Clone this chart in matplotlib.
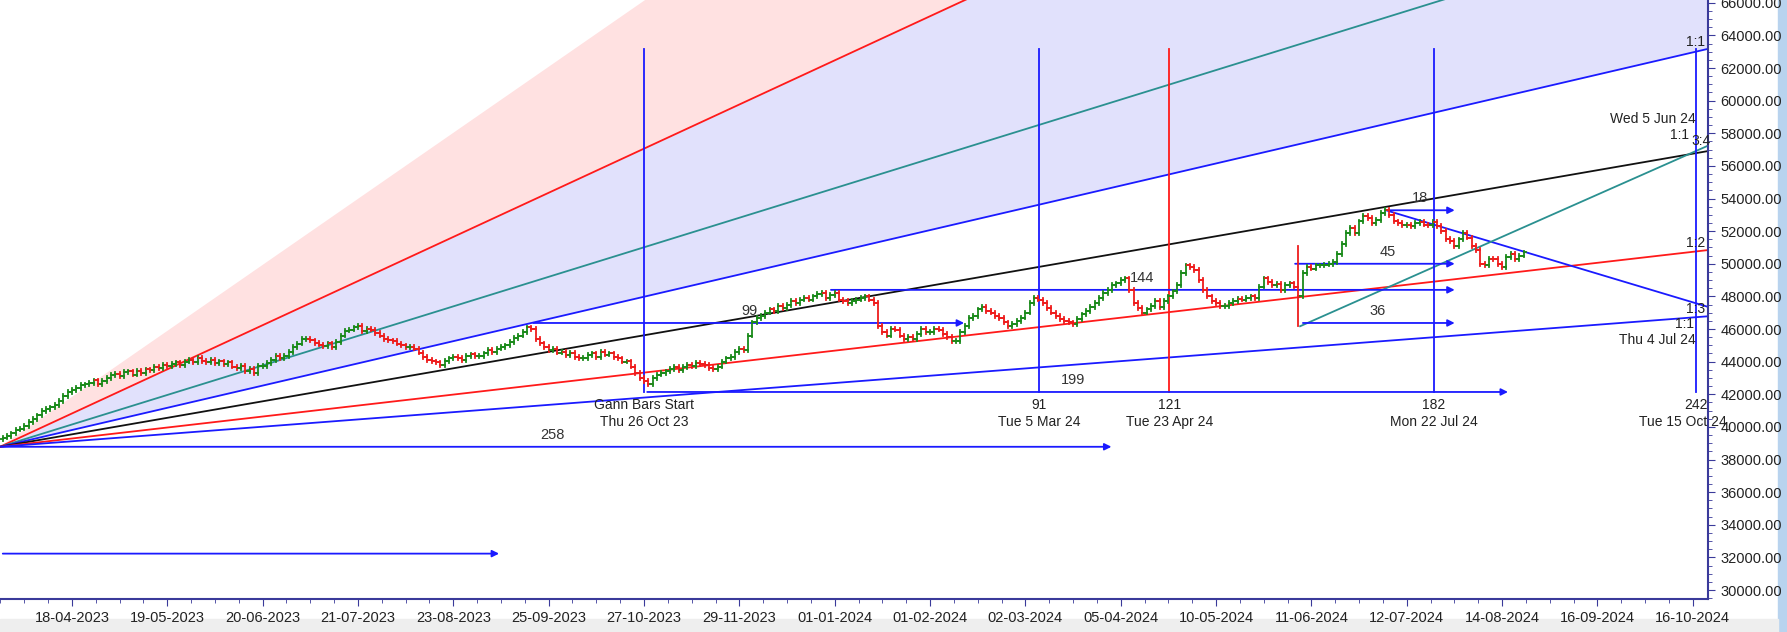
import matplotlib
matplotlib.use("Agg")
import matplotlib.pyplot as plt
import numpy as np
from matplotlib.ticker import MultipleLocator

plt.rcParams['font.family'] = ['Liberation Sans', 'DejaVu Sans']

# ---------------- data ----------------
start_index = -16
closes = [v * 10 for v in [
3934,3945,3960,3983,3990,4005,4030,4050,4070,4098,
4108,4120,4135,4160,4190,4213,4225,4240,4255,4261,
4270,4285,4262,4280,4300,4317,4325,4310,4335,4340,
4320,4345,4330,4352,4350,4370,4358,4380,4375,4387,
4395,4380,4400,4410,4395,4422,4405,4398,4410,4390,
4401,4385,4395,4370,4360,4375,4340,4355,4330,4373,
4373,4390,4410,4436,4420,4436,4460,4490,4510,4540,
4540,4530,4515,4505,4495,4512,4490,4520,4560,4590,
4596,4610,4620,4585,4600,4596,4575,4560,4540,4530,
4526,4510,4500,4490,4491,4480,4455,4430,4410,4401,
4395,4380,4405,4420,4430,4422,4410,4435,4445,4436,
4436,4450,4470,4460,4480,4491,4500,4520,4545,4560,
4580,4610,4600,4540,4512,4490,4470,4480,4456,4460,
4440,4455,4430,4422,4422,4440,4450,4430,4460,4443,
4450,4430,4420,4400,4401,4370,4330,4300,4282,4260,
4300,4320,4331,4340,4355,4366,4350,4366,4380,4375,
4390,4387,4380,4360,4352,4370,4400,4420,4430,4460,
4480,4470,4560,4640,4666,4680,4700,4720,4710,4740,
4730,4749,4770,4760,4780,4791,4780,4800,4815,4819,
4790,4810,4819,4780,4770,4760,4770,4780,4791,4800,
4780,4760,4620,4580,4560,4600,4596,4560,4540,4550,
4540,4570,4600,4582,4582,4600,4596,4570,4550,4526,
4526,4580,4620,4666,4680,4720,4735,4710,4700,4680,
4666,4640,4620,4631,4650,4670,4700,4760,4791,4780,
4760,4730,4700,4680,4660,4650,4640,4631,4660,4690,
4710,4735,4760,4790,4820,4840,4870,4880,4900,4910,
4840,4760,4730,4700,4720,4740,4770,4735,4770,4800,
4830,4870,4944,4990,4980,4960,4900,4840,4800,4770,
4760,4740,4740,4760,4770,4784,4780,4790,4800,4791,
4860,4910,4890,4870,4875,4840,4870,4880,4860,4800,
4944,4980,4970,4990,4990,4995,5000,5010,5060,5120,
5188,5220,5190,5260,5293,5280,5250,5270,5310,5328,
5300,5260,5250,5237,5240,5230,5250,5258,5240,5237,
5258,5230,5200,5153,5139,5110,5150,5188,5160,5110,
5084,5000,4993,5030,5028,5000,4979,5040,5060,5030,5050,5070]]

tick_labels = ["18-04-2023","19-05-2023","20-06-2023","21-07-2023","23-08-2023",
               "25-09-2023","27-10-2023","29-11-2023","01-01-2024","01-02-2024",
               "02-03-2024","05-04-2024","10-05-2024","11-06-2024","12-07-2024",
               "14-08-2024","16-09-2024","16-10-2024"]
tick_step = 22

fan_origin = (-16.6, 38780)
fan_slopes = {"pink": 184, "red": 123, "teal": 82.3, "blue": 61.9, "black": 46.0,
              "red2": 30.6, "blue2": 20.3}

vlines = [(132.1, "blue", "Gann Bars Start", "Thu 26 Oct 23"),
          (223.2, "blue", "91", "Tue 5 Mar 24"),
          (253.2, "red", "121", "Tue 23 Apr 24"),
          (314.2, "blue", "182", "Mon 22 Jul 24"),
          (374.7, "blue", "242", "Tue 15 Oct 24")]
harrows = [(132.1, 332, 42140, "199", 231),
           (-16.6, 240.5, 38780, "258", 110.8),
           (-16.6, 99.2, 32230, "", 0),
           (105.8, 206.5, 46370, "99", 156.3),
           (174.5, 319.7, 48400, "144", 247),
           (281.6, 319.7, 50000, "45", 303.7),
           (283.4, 319.7, 46370, "36", 301.3),
           (303.2, 319.7, 53280, "18", 311)]

# ---------------- figure ----------------
fig = plt.figure(figsize=(17.87, 6.32), dpi=100)
ax = fig.add_axes([0.0, 0.052, 0.956, 0.948])
xmin, xmax = -16.6, 377.6
ymin, ymax = 29440, 66170
ax.set_xlim(xmin, xmax); ax.set_ylim(ymin, ymax)

xs = np.array([xmin, xmax + 50])
ox, oy = fan_origin
line = lambda s: oy + s * (xs - ox)
ax.fill_between(xs, line(fan_slopes["red"]), line(fan_slopes["pink"]), color="#ffe1e1", lw=0, zorder=0)
ax.fill_between(xs, line(fan_slopes["blue"]), line(fan_slopes["red"]), color="#e1e1fc", lw=0, zorder=0)
cols = {"red": "#ff1a1a", "teal": "#2a9090", "blue": "#1a1aff", "black": "#111111",
        "red2": "#ff1a1a", "blue2": "#1a1aff"}
for k, c in cols.items():
    ax.plot(xs, line(fan_slopes[k]), color=c, lw=1.3, zorder=1)

ax.plot([303.2, 377.6], [53280, 47350], color="#1a1aff", lw=1.3, zorder=1)
ax.plot([283.4, 377.6], [46170, 57250], color="#2a9090", lw=1.3, zorder=1)

for x, c, l1, l2 in vlines:
    ax.plot([x, x], [42140, 63170], color="#1a1aff" if c == "blue" else "#ff1a1a", lw=1.3, zorder=1)
    ax.text(x, 41800, l1, ha="center", va="top", fontsize=10, color="#222222")
    ax.text(x - (3 if l1 == "242" else 0), 40750, l2, ha="center", va="top", fontsize=10, color="#222222")

for x0, x1, p, lab, lx in harrows:
    ax.annotate("", xy=(x1, p), xytext=(x0, p),
                arrowprops=dict(arrowstyle="-|>", color="#1a1aff", lw=1.3, mutation_scale=10), zorder=2)
    if lab:
        ax.text(lx, p + 300, lab, ha="center", va="bottom", fontsize=10.5, color="#333333")

prev = closes[0] - 100
for j, c in enumerate(closes):
    i = start_index + j
    o = prev
    hi = max(o, c) + 110
    lo = min(o, c) - 110
    if i == 283:
        hi, lo = 51100, 46170
    col = "#1a8a1a" if c >= o else "#ee1c1c"
    ax.plot([i, i], [lo, hi], color=col, lw=1.3, zorder=3)
    ax.plot([i - 0.6, i], [o, o], color=col, lw=1.3, zorder=3)
    ax.plot([i, i + 0.6], [c, c], color=col, lw=1.3, zorder=3)
    prev = c

for txt, x, p in [("1:1", 374.7, 63600), ("Wed 5 Jun 24", 374.7, 58900), ("1:1", 371, 57900),
                  ("3:4", 376, 57500), ("1:2", 374.7, 51300), ("1:3", 374.7, 47200),
                  ("1:1", 372, 46300), ("Thu 4 Jul 24", 374.7, 45300)]:
    ax.text(x, p, txt, ha="center" if len(txt) < 5 else "right", va="center", fontsize=10, color="#222222")

for s in ["left", "top"]:
    ax.spines[s].set_visible(False)
for s in ["right", "bottom"]:
    ax.spines[s].set_color("#3a3a9a"); ax.spines[s].set_linewidth(1.5)
ax.yaxis.tick_right()
ax.set_yticks(np.arange(30000, 66001, 2000))
ax.set_yticklabels([f"{v:.2f}" for v in np.arange(30000, 66001, 2000)], fontsize=10.5)
ax.yaxis.set_minor_locator(MultipleLocator(500))
ax.set_ylim(ymin, ymax)
ax.set_xticks([tick_step * k for k in range(len(tick_labels))])
ax.set_xticklabels(tick_labels, fontsize=10.5)
ax.xaxis.set_minor_locator(MultipleLocator(tick_step / 4))
ax.tick_params(colors="#3a3a9a", labelcolor="#222222", length=5)
ax.tick_params(which="minor", colors="#3a3a9a", length=3)

fig.patches.append(plt.Rectangle((0.995, 0), 0.005, 1, transform=fig.transFigure, color="#b8d3ee", zorder=-1))
fig.patches.append(plt.Rectangle((0, 0), 0.995, 0.02, transform=fig.transFigure, color="#eeeeee", zorder=-1))
fig.savefig("out.png", dpi=100)
